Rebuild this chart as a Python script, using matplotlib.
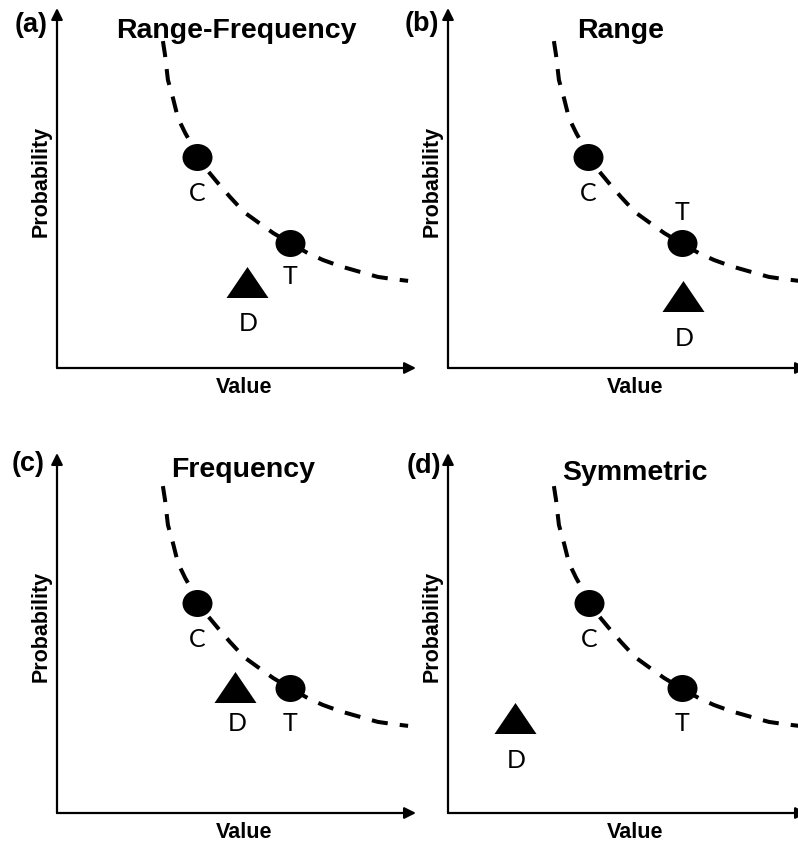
import matplotlib.pyplot as plt
from matplotlib.path import Path
from matplotlib.transforms import Affine2D

# conceptual curve (same in every panel), axes 0-10
curve_value = [2.95, 3.01, 3.09, 3.23, 3.37, 3.57, 3.76, 3.90, 4.18, 4.48, 4.82,
               5.21, 5.71, 6.02, 6.49, 6.99, 7.41, 7.88, 8.44, 8.94, 9.36, 9.78]
curve_prob = [9.08, 8.69, 8.00, 7.50, 6.94, 6.53, 6.19, 5.86, 5.50, 5.14, 4.75,
              4.33, 3.97, 3.75, 3.47, 3.19, 3.00, 2.83, 2.67, 2.53, 2.47, 2.42]

panel_tags = ['(a)', '(b)', '(c)', '(d)']
titles = ['Range-Frequency', 'Range', 'Frequency', 'Symmetric']

# compromise (C), target (T), decoy (D) per panel
c_x = [3.90, 3.90, 3.90, 3.93]
c_y = [5.86, 5.86, 5.83, 5.83]
t_x = [6.49, 6.52, 6.49, 6.52]
t_y = [3.47, 3.47, 3.47, 3.47]
d_x = [5.29, 6.55, 4.96, 1.87]
d_y = [2.40, 2.00, 3.49, 2.63]

# layout (pixels -> figure fractions)
W, H = 798, 843
px = 0.72  # points per pixel at dpi 100
ax_left = [57, 448, 57, 448]
ax_bottom = [368, 368, 813, 813]
title_pos = [(0.501, 0.917), (0.482, 0.917), (0.518, 0.933), (0.521, 0.925)]
tag_pos = [(-0.072, 0.953), (-0.072, 0.956), (-0.081, 0.969), (-0.067, 0.964)]
t_label_dy = [-33, 31, -35, -35]
d_label_dy = [-42, -42, -36, -42]
d_label_dx = [1, 1, 2, 1]

ellipse = Path.unit_circle().transformed(Affine2D().scale(1.0, 0.9))
triangle = Path([(-1, -0.738), (1, -0.738), (0, 0.738), (-1, -0.738)],
                [Path.MOVETO, Path.LINETO, Path.LINETO, Path.CLOSEPOLY])

bold = dict(family='Liberation Sans', fontweight='bold')
lbl = dict(family='Lato', fontsize=18, ha='center', va='center')

fig = plt.figure(figsize=(W / 100, H / 100), dpi=100)

for i in range(4):
    ax = fig.add_axes([ax_left[i] / W, (H - ax_bottom[i]) / H, 359 / W, 360 / H])
    ax.set_xlim(0, 10)
    ax.set_ylim(0, 10)
    ax.axis('off')

    # axes with arrows
    arr = dict(arrowstyle='-|>', lw=1.6, color='black', mutation_scale=17,
               shrinkA=0, shrinkB=0)
    ax.annotate('', xy=(0, 1.0), xytext=(0, 0), xycoords='axes fraction',
                arrowprops=arr, annotation_clip=False)
    ax.annotate('', xy=(1.0, 0), xytext=(0, 0), xycoords='axes fraction',
                arrowprops=arr, annotation_clip=False)

    ax.plot(curve_value, curve_prob, color='black', lw=2.9,
            linestyle=(0, (4.0, 3.0)), clip_on=False)

    ax.plot([c_x[i]], [c_y[i]], marker=ellipse, markersize=30 * px,
            color='black', markeredgewidth=0, linestyle='none', clip_on=False)
    ax.plot([t_x[i]], [t_y[i]], marker=ellipse, markersize=30 * px,
            color='black', markeredgewidth=0, linestyle='none', clip_on=False)
    ax.plot([d_x[i]], [d_y[i]], marker=triangle, markersize=42 * px,
            color='black', markeredgewidth=0, linestyle='none', clip_on=False)

    ax.annotate('C', (c_x[i], c_y[i]), xytext=(0, -36 * px),
                textcoords='offset points', **lbl)
    ax.annotate('T', (t_x[i], t_y[i]), xytext=(0, t_label_dy[i] * px),
                textcoords='offset points', **lbl)
    ax.annotate('D', (d_x[i], d_y[i]),
                xytext=(d_label_dx[i] * px, d_label_dy[i] * px),
                textcoords='offset points', **lbl)

    ax.text(title_pos[i][0], title_pos[i][1], titles[i], transform=ax.transAxes,
            ha='center', va='baseline', fontsize=20.5, **bold)
    ax.text(tag_pos[i][0], tag_pos[i][1], panel_tags[i], transform=ax.transAxes,
            ha='center', va='center', fontsize=19.5, **bold)
    ax.text(0.52, -0.055, 'Value', transform=ax.transAxes,
            ha='center', va='center', fontsize=15.5, **bold)
    ax.text(-0.045, 0.517, 'Probability', transform=ax.transAxes, rotation=90,
            ha='center', va='center', fontsize=15.5, **bold)

fig.savefig('out.png', dpi=100)
